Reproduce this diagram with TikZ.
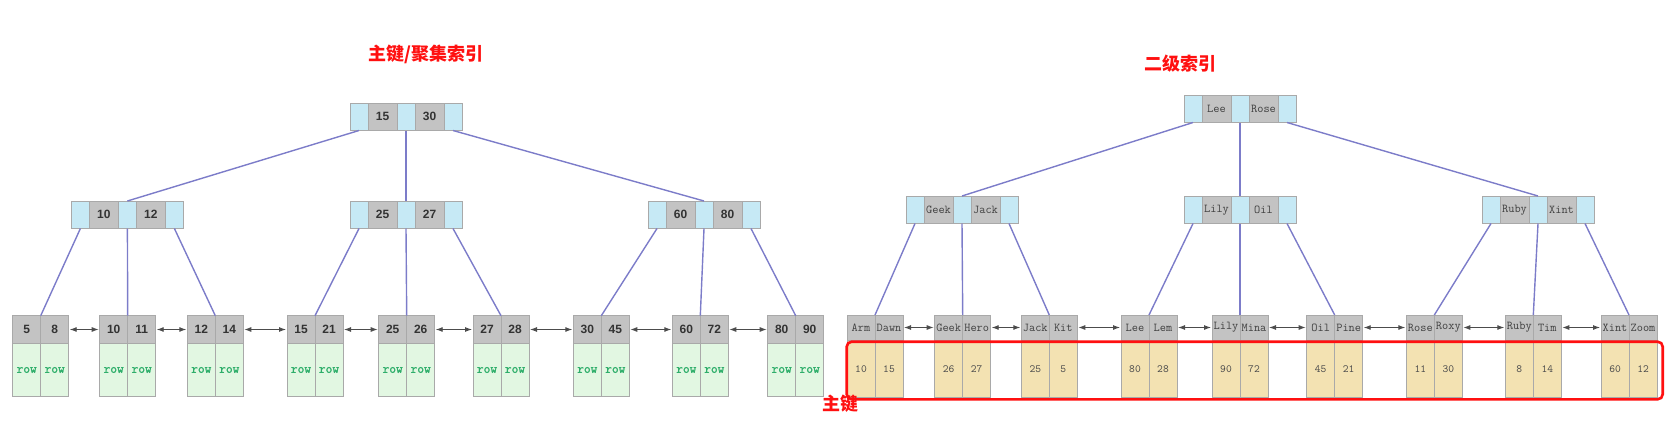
\documentclass[tikz,border=0pt]{standalone}
\usepackage{fontspec}
\setsansfont{Liberation Sans}
\setmonofont{Latin Modern Mono}[AutoFakeBold=1.6]
\newfontfamily\cjk{Noto Sans CJK SC}
\usetikzlibrary{arrows,arrows.meta,positioning}

\definecolor{ptrblue}{HTML}{C6E9F5}
\definecolor{keygray}{HTML}{C3C3C3}
\definecolor{cellline}{HTML}{A9A9A9}
\definecolor{rowgreen}{HTML}{E2F7E2}
\definecolor{rowtext}{HTML}{2EAE6A}
\definecolor{pkyellow}{HTML}{F3E2B2}
\definecolor{linkblue}{HTML}{7C7CC9}
\definecolor{titlered}{HTML}{FF1010}

\tikzset{
	cell/.style={draw=cellline, line width=0.8pt, inner sep=0pt, outer sep=0pt, minimum height=27.5pt},
	ptr/.style={cell, fill=ptrblue, minimum width=18pt},
	keycell/.style={cell, fill=keygray, minimum width=29pt},
	leafkey/.style={keycell, minimum width=28pt},
	datacell/.style={cell, minimum width=28pt},
	link/.style={draw=linkblue, line width=1.4pt},
	leafarrow/.style={draw=black!70, line width=0.9pt, shorten <=1pt, shorten >=1pt,
		{Latex[length=7pt,width=5pt]}-{Latex[length=7pt,width=5pt]}},
	title/.style={text=titlered, inner sep=0pt, font=\cjk\bfseries\fontsize{18}{20}\selectfont}
}

\begin{document}
\begin{tikzpicture}[>=latex, x=1pt, y=-1pt]

\useasboundingbox (0,0) rectangle (1677,420);

\def\inode#1#2#3#4#5{
	\node[ptr, anchor=north west] (#1p1) at (#2,#3) {};
	\node[keycell, right=0pt of #1p1] (#1k1) {#4};
	\node[ptr, right=0pt of #1k1] (#1p2) {};
	\node[keycell, right=0pt of #1p2] (#1k2) {#5};
	\node[ptr, right=0pt of #1k2] (#1p3) {};
}

\def\leaf#1#2#3#4#5#6#7{
	\node[leafkey, anchor=north east] (#1k1) at (#2,#3) {#4};
	\node[leafkey, right=0pt of #1k1] (#1k2) {#5};
	\node[datacell, below=0pt of #1k1] (#1d1) {#6};
	\node[datacell, below=0pt of #1k2] (#1d2) {#7};
}

% clustered index
\node[title] (ptitle) at (426,54) {主键/聚集索引};

\begin{scope}[keycell/.append style={text=black!80, font=\sffamily\bfseries\fontsize{12}{14}\selectfont},
	leafkey/.append style={minimum height=27.6pt},
	datacell/.append style={fill=rowgreen, minimum height=53.4pt, text=rowtext, font=\ttfamily\bfseries\fontsize{13}{15}\selectfont}]

\inode{pr}{350}{103}{15}{30}
\inode{pa}{71.4}{201}{10}{12}
\inode{pb}{350}{201}{25}{27}
\inode{pc}{648}{201}{60}{80}

\foreach \n/\x/\ka/\kb in {1/40.7/5/8, 2/127.7/10/11, 3/215.3/12/14, 4/315/15/21, 5/406.7/25/26,
	6/501/27/28, 7/601.3/30/45, 8/700.3/60/72, 9/795.7/80/90}{
	\leaf{pl\n}{\x}{315.7}{\ka}{\kb}{row}{row}
}

\draw[link] (prp1.south) -- (pap2.north);
\draw[link] (prp2.south) -- (pbp2.north);
\draw[link] (prp3.south) -- (pcp2.north);
\foreach \p/\f in {pa/0, pb/3, pc/6}
	\foreach \c in {1,2,3}{
		\pgfmathtruncatemacro\m{\f+\c}
		\draw[link] (\p p\c.south) -- (pl\m k1.north east);
	}

\foreach \i in {1,...,8}{
	\pgfmathtruncatemacro\j{\i+1}
	\draw[leafarrow] (pl\i k2.east) -- (pl\j k1.west);
}
\end{scope}

% secondary index
\node[title] (stitle) at (1180,64) {二级索引};

\begin{scope}[keycell/.append style={text=black!75, font=\ttfamily\fontsize{12}{14}\selectfont},
	leafkey/.append style={minimum height=25pt},
	datacell/.append style={fill=pkyellow, minimum height=57.5pt, text=black!70, font=\ttfamily\fontsize{11}{13}\selectfont}]

\inode{sr}{1184}{95}{Lee}{Rose}
\inode{sa}{906}{196}{Geek}{Jack}
\inode{sb}{1184}{196}{Lily}{Oil}
\inode{sc}{1482}{196}{Ruby}{Xint}

\foreach \n/\x/\ka/\kb/\va/\vb in {1/875/Arm/Dawn/10/15, 2/962.7/Geek/Hero/26/27, 3/1049.3/Jack/Kit/25/5,
	4/1149/Lee/Lem/80/28, 5/1240/Lily/Mina/90/72, 6/1334.7/Oil/Pine/45/21,
	7/1434.3/Rose/Roxy/11/30, 8/1533.3/Ruby/Tim/8/14, 9/1629/Xint/Zoom/60/12}{
	\leaf{sl\n}{\x}{315}{\ka}{\kb}{\va}{\vb}
}

\draw[link] (srp1.south) -- (sap2.north);
\draw[link] (srp2.south) -- (sbp2.north);
\draw[link] (srp3.south) -- (scp2.north);
\foreach \p/\f in {sa/0, sb/3, sc/6}
	\foreach \c in {1,2,3}{
		\pgfmathtruncatemacro\m{\f+\c}
		\draw[link] (\p p\c.south) -- (sl\m k1.north east);
	}

\foreach \i in {1,...,8}{
	\pgfmathtruncatemacro\j{\i+1}
	\draw[leafarrow] (sl\i k2.east) -- (sl\j k1.west);
}
\end{scope}

% primary key frame
\draw[titlered, line width=2.6pt, rounded corners=5pt] (846.7,341.7) rectangle (1662.7,399.3);
\node[title] (pklabel) at (840.5,404) {主键};

\end{tikzpicture}
\end{document}
